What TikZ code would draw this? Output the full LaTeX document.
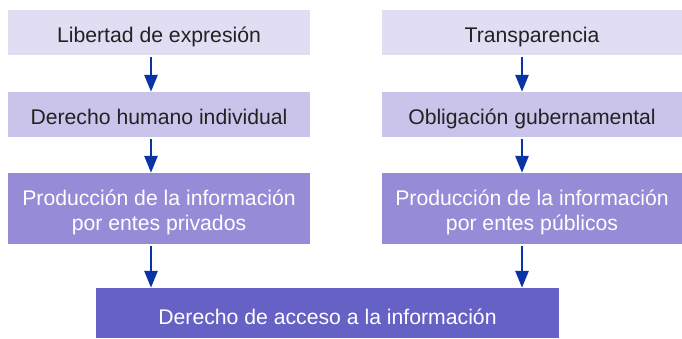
\documentclass[tikz,border=0pt]{standalone}
\usepackage{fontspec}
\setmainfont{Liberation Sans}
\usetikzlibrary{arrows.meta}
\definecolor{cA}{HTML}{E1DDF3}
\definecolor{cB}{HTML}{CBC4EA}
\definecolor{cC}{HTML}{958BD6}
\definecolor{cD}{HTML}{6661C4}
\definecolor{arrc}{HTML}{0A33A6}
\definecolor{txt}{HTML}{222222}
\tikzset{
  boxbase/.style={rectangle, inner sep=0pt, align=center, font=\fontsize{21.2}{25}\selectfont},
  oneline/.style={text height=21pt, text depth=2pt},
  twoline/.style={text height=45pt, text depth=2pt},
  lvlA/.style={boxbase, oneline, fill=cA, text=txt},
  lvlB/.style={boxbase, oneline, fill=cB, text=txt},
  lvlC/.style={boxbase, twoline, fill=cC, text=white},
  lvlD/.style={boxbase, text height=24pt, text depth=2pt, fill=cD, text=white},
  arr/.style={draw=arrc, line width=2.8pt, -{Triangle[width=13pt,length=17pt]}, shorten <=2pt}
}
\begin{document}
\begin{tikzpicture}[x=1pt,y=-1pt]
\useasboundingbox (0,0) rectangle (682,338);
\node[lvlA, minimum width=302pt, minimum height=45pt] (l1) at (159,32.5) {Libertad de expresión};
\node[lvlB, minimum width=302pt, minimum height=45pt] (l2) at (159,114.5) {Derecho humano individual};
\node[lvlC, minimum width=302pt, minimum height=71pt] (l3) at (159,208.5) {Producción de la información\\por entes privados};
\node[lvlA, minimum width=300pt, minimum height=45pt] (r1) at (532,32.5) {Transparencia};
\node[lvlB, minimum width=300pt, minimum height=45pt] (r2) at (532,114.5) {Obligación gubernamental};
\node[lvlC, minimum width=300pt, minimum height=71pt] (r3) at (532,208.5) {Producción de la información\\por entes públicos};
\node[lvlD, minimum width=463pt, minimum height=50pt] (bt) at (327.5,313) {Derecho de acceso a la información};
\coordinate (la) at (151,0);
\coordinate (ra) at (522,0);
\draw[arr] (l1.south -| la) -- (l2.north -| la);
\draw[arr] (l2.south -| la) -- (l3.north -| la);
\draw[arr] (l3.south -| la) -- (bt.north -| la);
\draw[arr] (r1.south -| ra) -- (r2.north -| ra);
\draw[arr] (r2.south -| ra) -- (r3.north -| ra);
\draw[arr] (r3.south -| ra) -- (bt.north -| ra);
\end{tikzpicture}
\end{document}
